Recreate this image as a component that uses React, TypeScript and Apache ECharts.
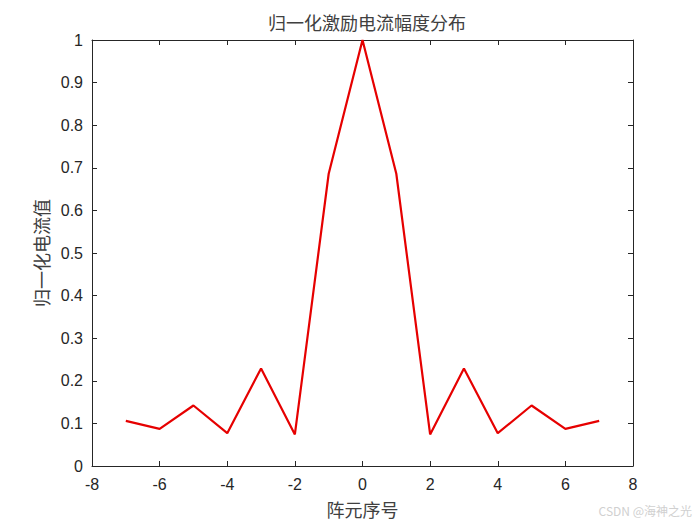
import React, { useEffect, useRef } from "react";
import * as echarts from "echarts";

const elementIndex = [-7, -6, -5, -4, -3, -2, -1, 0, 1, 2, 3, 4, 5, 6, 7];
const amplitude = [0.106, 0.087, 0.142, 0.077, 0.229, 0.074, 0.686, 1.0, 0.686, 0.074, 0.229, 0.077, 0.142, 0.087, 0.106];
const titleText = "归一化激励电流幅度分布";
const xLabel = "阵元序号";
const yLabel = "归一化电流值";
const watermark = "CSDN @海神之光";

export default function App() {
  const ref = useRef<HTMLDivElement>(null);
  useEffect(() => {
    const chart = echarts.init(ref.current!, null, { renderer: "svg" });
    const axisLine = { show: true, onZero: false, lineStyle: { color: "#262626", width: 1 } };
    const tickStyle = { show: true, inside: true, length: 5, lineStyle: { color: "#262626", width: 1 } };
    const labelFont = { fontFamily: "Liberation Sans, Arial, sans-serif", fontSize: 16, color: "#262626" };
    const cjkFont = { fontFamily: "Noto Sans CJK SC", fontSize: 18, fontWeight: "normal" as const, color: "#404040" };
    chart.setOption({
      animation: false,
      backgroundColor: "#ffffff",
      title: {
        text: titleText,
        left: 362,
        top: 8,
        textAlign: "center",
        textStyle: cjkFont,
      },
      grid: { left: 92, right: 67, top: 40, bottom: 59, containLabel: false },
      xAxis: [
        {
          type: "value",
          min: -8,
          max: 8,
          interval: 2,
          axisLine,
          axisTick: tickStyle,
          axisLabel: { ...labelFont, margin: 10 },
          splitLine: { show: false },
          name: xLabel,
          nameLocation: "middle",
          nameGap: 34,
          nameTextStyle: cjkFont,
        },
        {
          type: "value",
          position: "top",
          min: -8,
          max: 8,
          interval: 2,
          axisLine,
          axisTick: tickStyle,
          axisLabel: { show: false },
          splitLine: { show: false },
        },
      ],
      yAxis: [
        {
          type: "value",
          min: 0,
          max: 1,
          interval: 0.1,
          axisLine,
          axisTick: tickStyle,
          axisLabel: { ...labelFont, margin: 9, formatter: (v: number) => String(Math.round(v * 10) / 10) },
          splitLine: { show: false },
          name: yLabel,
          nameLocation: "middle",
          nameGap: 39,
          nameRotate: 90,
          nameTextStyle: cjkFont,
        },
        {
          type: "value",
          position: "right",
          min: 0,
          max: 1,
          interval: 0.1,
          axisLine,
          axisTick: tickStyle,
          axisLabel: { show: false },
          splitLine: { show: false },
        },
      ],
      series: [
        {
          type: "line",
          data: elementIndex.map((x, i) => [x, amplitude[i]]),
          showSymbol: false,
          symbol: "none",
          lineStyle: { color: "#e60000", width: 2.2 },
          xAxisIndex: 0,
          yAxisIndex: 0,
        },
      ],
      graphic: [
        {
          type: "text",
          right: 8,
          top: 504,
          style: { text: watermark, fontFamily: "Noto Sans CJK SC", fontSize: 12, fill: "#d0d0d0" },
        },
      ],
    });
    return () => chart.dispose();
  }, []);
  return <div ref={ref} style={{ position: "fixed", left: 0, top: 0, width: 700, height: 525 }} />;
}
